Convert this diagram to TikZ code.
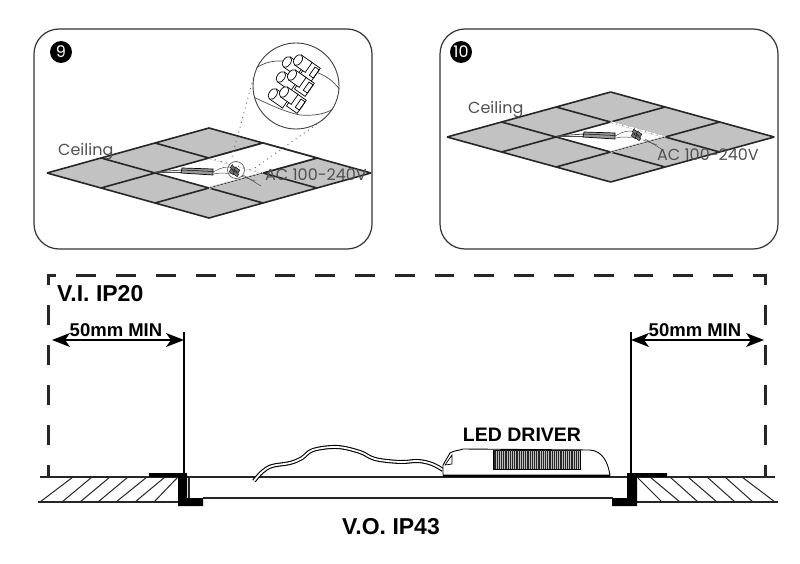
\documentclass[tikz,border=0pt]{standalone}
\usepackage{fontspec}
\setmainfont{Liberation Sans}
\newfontfamily\gothicfont{Poppins}
\usetikzlibrary{arrows.meta}
\usetikzlibrary{calc}
\usetikzlibrary{positioning}
\definecolor{tilegray}{HTML}{C2C2C2}
\definecolor{inkgray}{HTML}{505050}

\tikzset{
	panel/.style = {draw=black!80,line width=1.2pt,rounded corners=25pt},
	tileline/.style = {draw=black!85,line width=1.6pt},
	badge/.style = {circle,fill=black,text=white,inner sep=0pt,minimum size=22pt,font=\gothicfont\fontsize{16}{16}\selectfont},
	gothic/.style = {anchor=west,inner sep=0pt,text=inkgray,font=\gothicfont\fontsize{16}{16}\selectfont},
	heading/.style = {inner sep=0pt,font=\bfseries\fontsize{23}{23}\selectfont},
	boldnote/.style = {inner sep=0pt,font=\bfseries\fontsize{18.5}{18.5}\selectfont},
	thinwire/.style = {draw=black!70,line width=0.5pt},
	wire/.style = {double=white,double distance=1.8pt,line width=1.1pt},
	ceiling/.pic = {
		\begin{scope}[x={(54pt,15pt)},y={(54pt,-15pt)}]
			\fill[tilegray] (0,0) -- (3,0) -- (3,3) -- (0,3) -- cycle;
			\fill[white] (1,1) -- (2,1) -- (2,2) -- (1,2) -- cycle;
			\foreach \k in {0,...,3} {
				\draw[tileline] (\k,0) -- (\k,3);
				\draw[tileline] (0,\k) -- (3,\k);
			}
			% right hand rims of the cut-out are hardly there
			\draw[white,line width=1.8pt] (2,1) -- (2,2);
			\draw[black!60,line width=0.7pt,dash pattern=on 1pt off 5pt] (2,1) -- (2,2);
			\draw[white,line width=1.8pt] (1,2) -- (2,2);
			\draw[black!80,line width=0.7pt] (1,2) -- (2,2);
		\end{scope}
	},
	wiring/.pic = {
		% driver and wires, seen from far away
		\draw[thinwire,line width=0.8pt] (-54,-1) -- (-27,-3);
		\draw[thinwire,line width=0.8pt] (-54,-1) -- (-27,-1);
		\draw[fill=black!40,line width=0.7pt] (-27,-5) -- (4,-4) -- (4,2) -- (-28,0) -- cycle;
		\draw[line width=0.5pt] (-27,-3) -- (4,-1.5);
		\draw[thinwire] (4,-1) .. controls (9,-3) and (11,-6) .. (21,-6);
		\draw[thinwire] (5,1) .. controls (12,-1) and (16,1) .. (22,0);
		\draw[thinwire] (34,2) -- (52,13);
		\draw[thinwire] (32,3) -- (46,8);
		\foreach \a/\b in {24/-5,28/-3,23/-1,27/1}
			\draw[fill=black!55,line width=0.4pt,rotate around={-35:(\a,\b)}] (\a-2.5,\b-1.5) rectangle (\a+2.5,\b+1.5);
	},
	terminal/.pic = {
		% one row of the connector block in the lens
		\begin{scope}[rotate=-35,line width=0.7pt]
			\draw[fill=white] (-8,2) -- (8,2) -- (8,14) -- (-8,14) -- cycle;
			\draw[fill=white] (-8,8) ellipse (3.8 and 6);
			\draw[fill=white] (10,-6) -- (23,-6) -- (23,10) -- (10,10) -- cycle;
			\draw[fill=white] (0,-6) -- (13,-6) -- (13,6) -- (0,6) -- cycle;
			\draw[fill=white] (0,0) ellipse (3.8 and 6);
			\draw (18,-4) -- (23,-4) -- (23,6) -- (18,6) -- cycle;
		\end{scope}
	}
}

\begin{document}
\begin{tikzpicture}[
	x=1pt,y=-1pt,
	> = {Stealth[length=18pt,width=14pt,inset=5pt]},
	dashline/.style = {line width=3pt,draw=black!85,dash pattern=on 20pt off 20pt,dash phase=10pt},
	rim/.style = {line width=1.2pt,draw=black!85},
	hatch/.style = {line width=1pt,draw=black!85},
	flange/.style = {fill=black}
	]
	\useasboundingbox (0,0) rectangle (800,564);

	% panel 9
	\draw[panel] (34,29) rectangle (372,249);
	\node[badge] (badge9) at (61,52) {9};
	\pic at (47,173) {ceiling};
	% one more tile is open in this panel
	\fill[white] (209,158) -- (263,143) -- (317,158) -- (263,173) -- cycle;
	\draw[tileline] (209,158) -- (263,143) -- (317,158) -- (263,173);
	\draw[black!60,line width=0.7pt,dash pattern=on 1pt off 5pt] (209,158) -- (263,173);
	\pic at (209,173) {wiring};
	\node[draw=black!70,circle,line width=0.6pt,minimum size=17pt,inner sep=0pt] (spot9) at (236,170) {};

	\node[draw=black!75,circle,line width=0.9pt,fill=white,minimum size=86pt,inner sep=0pt] (lens) at (296,86) {};
	\coordinate (@dotA) at (232,157);
	\coordinate (@dotB) at (252,170);
	\draw[black!65,line width=0.8pt,dash pattern=on 1pt off 4pt] (lens.170) -- (@dotA);
	\draw[black!65,line width=0.8pt,dash pattern=on 1pt off 4pt] (lens.-48) -- (@dotB);
	\draw[thinwire,line width=0.7pt] (lens.155) .. controls (268,60) and (285,58) .. (300,66) .. controls (315,72) and (328,74) .. (lens.-4);
	\draw[thinwire,line width=0.7pt] (lens.-165) .. controls (268,104) and (285,112) .. (300,115) .. controls (315,116) and (325,114) .. (lens.-32);
	\pic at (298,60) {terminal};
	\pic at (292,75) {terminal};
	\pic at (284,92) {terminal};

	\node[gothic] (ceiling9) at (58,152) {Ceiling};
	\node[gothic] (mains9) at (265,175) {AC 100-240V};

	% panel 10
	\draw[panel] (440,29) rectangle (778,249);
	\node[badge] (badge10) at (461,52) {10};
	\pic[xscale=1.01] at (447,137) {ceiling};
	\pic at (611,137) {wiring};
	\node[gothic] (ceiling10) at (468,110) {Ceiling};
	\node[gothic] (mains10) at (657,155) {AC 100-240V};

	% installation section
	\coordinate (@tl) at (48,275);
	\coordinate (@tr) at (765,275);
	\draw[dashline] (@tl) -- (48,477);
	\draw[dashline] (@tr) -- (765,477);
	\draw[dashline,dash pattern=on 19.9pt off 19.9pt,dash phase=9.95pt] (46.5,275) -- (766.5,275);

	\node[heading,anchor=west] (vi) at (57,294) {V.I. IP20};
	\node[heading] (vo) at (391,527) {V.O. IP43};
	\node[heading,font=\bfseries\fontsize{19.5}{19.5}\selectfont] (ledlabel) at (522,435) {LED DRIVER};

	\coordinate (@gapL) at (52,340);
	\coordinate (@gapLb) at (184,340);
	\coordinate (@gapR) at (631,340);
	\coordinate (@gapRb) at (764,340);
	\draw[line width=1.3pt] (184,332) -- (184,475);
	\draw[line width=1.3pt] (631,332) -- (631,475);
	\draw[<->,line width=1.4pt] (@gapL) -- (@gapLb);
	\draw[<->,line width=1.4pt] (@gapR) -- (@gapRb);
	\node[boldnote] (minL) at (116,330) {50mm MIN};
	\node[boldnote] (minR) at (695,330) {50mm MIN};

	% walls
	\draw[rim] (40,477) -- (182,477);
	\draw[rim] (38,502) -- (180,502);
	\draw[rim] (637,477) -- (775,477);
	\draw[rim] (637,502) -- (778,502);
	\foreach \a/\b in {40/73,62/92,80/110,98/128,116/147,135/165,154/178}
		\draw[hatch] (\a,502) -- (\b,477);
	\foreach \a/\b in {637/662,650/680,670/698,688/717,707/735,725/753,742/775}
		\draw[hatch] (\a,477) -- (\b,502);

	% panel body
	\draw[rim] (187,477) -- (628,477);
	\draw[rim] (203,498) -- (613,498);
	\draw[rim] (189,477) -- (189,498);
	\fill[flange] (149,473) rectangle (187,477) (178,473) rectangle (187,506) (178,498) rectangle (203,506);
	\fill[flange] (627,473) rectangle (667,477) (627,473) rectangle (637,506) (612,498) rectangle (637,506);

	% driver
	\draw[wire] plot[smooth,tension=0.6] coordinates {(254,481) (262,472) (272,466) (290,463) (302,458) (313,450) (337,447) (360,452) (375,459) (400,462) (418,461) (432,464) (443,470)};
	\draw[fill=white,line width=0.9pt] (443,475) -- (443,465) -- (450,453) .. controls (455,450) and (458,451) .. (463,449) -- (590,450) .. controls (603,451) and (608,463) .. (610,475) -- cycle;
	\draw[line width=0.7pt] (445,465) -- (452,455) -- (452,464) -- cycle;
	\draw[line width=1.2pt] (443,476) -- (610,476);
	\fill[black!25] (493,450) rectangle (580,469);
	\draw[line width=0.8pt] (493,450) rectangle (580,469);
	\foreach \x in {495,497.2,...,579}
		\draw[line width=1.2pt,black!85] (\x,450) -- (\x,469);
\end{tikzpicture}
\end{document}
